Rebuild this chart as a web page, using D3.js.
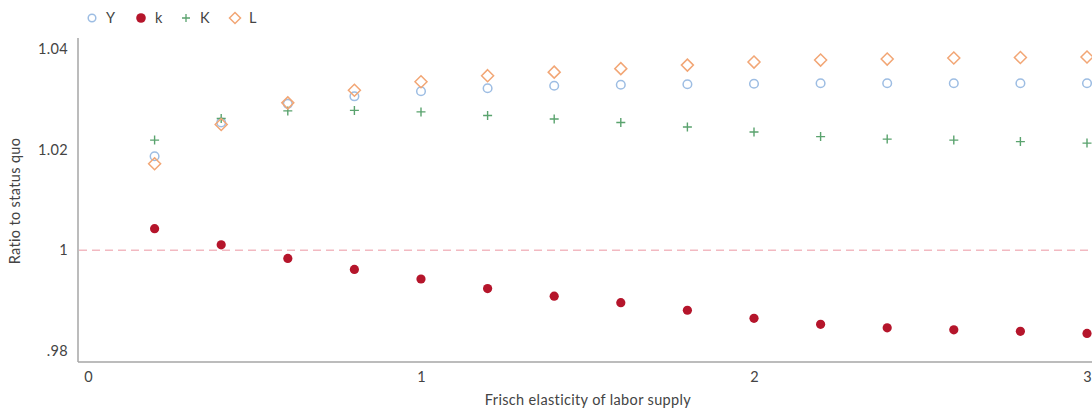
<!DOCTYPE html>
<html>
<head>
<meta charset="utf-8">
<script src="https://cdn.jsdelivr.net/npm/d3@7"></script>
<style>
  html, body { margin: 0; padding: 0; background: #fff; }
  svg { display: block; font-family: Lato, "Open Sans", sans-serif; }
</style>
</head>
<body>
<svg id="chart" width="1092" height="413"></svg>
<script>
const elasticity = [0.2, 0.4, 0.6, 0.8, 1.0, 1.2, 1.4, 1.6, 1.8, 2.0, 2.2, 2.4, 2.6, 2.8, 3.0];
const seriesY = [1.0187, 1.0254, 1.0291, 1.0306, 1.0316, 1.0322, 1.0327, 1.0329, 1.0330, 1.0331, 1.0332, 1.0332, 1.0332, 1.0332, 1.0332];
const seriesk = [1.0043, 1.0011, 0.9984, 0.9962, 0.9943, 0.9924, 0.9909, 0.9896, 0.9881, 0.9865, 0.9853, 0.9846, 0.9842, 0.9839, 0.9835];
const seriesK = [1.0219, 1.0262, 1.0277, 1.0278, 1.0275, 1.0268, 1.0261, 1.0254, 1.0245, 1.0235, 1.0226, 1.0221, 1.0219, 1.0216, 1.0213];
const seriesL = [1.0172, 1.0250, 1.0293, 1.0318, 1.0335, 1.0347, 1.0354, 1.0361, 1.0368, 1.0374, 1.0378, 1.0380, 1.0382, 1.0383, 1.0384];
const xTicks = [0, 1, 2, 3];
const yTicks = [0.98, 1.00, 1.02, 1.04];
const yTickLabels = [".98", "1", "1.02", "1.04"];
const seriesNames = ["Y", "k", "K", "L"];

const svg = d3.select("#chart");
const colors = { Y: "#9dbde3", k: "#b5152b", K: "#5aa36e", L: "#f2a675" };

const x = d3.scaleLinear().domain([0, 3]).range([88, 1087]);
const y = d3.scaleLinear().domain([0.98, 1.04]).range([351, 49]);

const axisColor = "#a6a6a6";
const textColor = "#444";
const fontSize = 14.5;
const letterSp = "0.35px";

// axes lines
svg.append("line").attr("x1", 78).attr("x2", 78).attr("y1", 38).attr("y2", 362)
  .attr("stroke", axisColor).attr("stroke-width", 1.5);
svg.append("line").attr("x1", 78).attr("x2", 1092).attr("y1", 362).attr("y2", 362)
  .attr("stroke", axisColor).attr("stroke-width", 1.5);

// y ticks
const yAxis = d3.axisLeft(y).tickValues(yTicks).tickSize(0).tickPadding(0)
  .tickFormat((d, i) => yTickLabels[i]);
const gy = svg.append("g").attr("transform", "translate(68,0)").call(yAxis);
gy.select(".domain").remove();
gy.selectAll("text").attr("font-size", fontSize).attr("fill", textColor)
  .attr("font-family", "Lato, sans-serif").attr("letter-spacing", letterSp);

// x ticks
const xAxis = d3.axisBottom(x).tickValues(xTicks).tickSize(0).tickPadding(0).tickFormat(d3.format("d"));
const gx = svg.append("g").attr("transform", "translate(0,372)").call(xAxis);
gx.select(".domain").remove();
gx.selectAll("text").attr("font-size", fontSize).attr("fill", textColor)
  .attr("font-family", "Lato, sans-serif").attr("letter-spacing", letterSp);

// axis titles
svg.append("text").attr("x", 588).attr("y", 405).attr("text-anchor", "middle")
  .attr("font-size", fontSize).attr("letter-spacing", letterSp).attr("fill", textColor)
  .text("Frisch elasticity of labor supply");
svg.append("text").attr("transform", "translate(20,201) rotate(-90)").attr("text-anchor", "middle")
  .attr("font-size", fontSize).attr("letter-spacing", letterSp).attr("fill", textColor)
  .text("Ratio to status quo");

// reference line at 1
svg.append("line").attr("x1", 79).attr("x2", 1092).attr("y1", y(1)).attr("y2", y(1))
  .attr("stroke", "#f2b9c1").attr("stroke-width", 1.5).attr("stroke-dasharray", "8,5");

function toPts(vals) { return elasticity.map((e, i) => ({ x: e, v: vals[i] })); }

// Y circles
svg.append("g").selectAll("circle").data(toPts(seriesY)).join("circle")
  .attr("cx", d => x(d.x)).attr("cy", d => y(d.v)).attr("r", 4.3)
  .attr("fill", "none").attr("stroke", colors.Y).attr("stroke-width", 1.5);

// k filled
svg.append("g").selectAll("circle").data(toPts(seriesk)).join("circle")
  .attr("cx", d => x(d.x)).attr("cy", d => y(d.v)).attr("r", 4.6)
  .attr("fill", colors.k);

// K plus
svg.append("g").selectAll("path").data(toPts(seriesK)).join("path")
  .attr("transform", d => `translate(${x(d.x)},${y(d.v)})`)
  .attr("d", "M-4.5,0H4.5M0,-4.5V4.5")
  .attr("stroke", colors.K).attr("stroke-width", 1.4).attr("fill", "none");

// L diamonds
svg.append("g").selectAll("path").data(toPts(seriesL)).join("path")
  .attr("transform", d => `translate(${x(d.x)},${y(d.v)})`)
  .attr("d", "M0,-6L6,0L0,6L-6,0Z")
  .attr("stroke", colors.L).attr("stroke-width", 1.5).attr("fill", "none");

// legend
const legend = svg.append("g").attr("font-size", fontSize).attr("fill", textColor);
const legX = [92, 141, 186, 235];
const legY = 18;
seriesNames.forEach((name, i) => {
  const g = legend.append("g").attr("transform", `translate(${legX[i]},${legY})`);
  if (name === "Y") g.append("circle").attr("r", 3.8).attr("fill", "none").attr("stroke", colors.Y).attr("stroke-width", 1.5);
  if (name === "k") g.append("circle").attr("r", 4.8).attr("fill", colors.k);
  if (name === "K") g.append("path").attr("d", "M-4,0H4M0,-4V4").attr("stroke", colors.K).attr("stroke-width", 1.3);
  if (name === "L") g.append("path").attr("d", "M0,-5.5L5.5,0L0,5.5L-5.5,0Z").attr("fill", "none").attr("stroke", colors.L).attr("stroke-width", 1.5);
  g.append("text").attr("x", 14).attr("y", 5).attr("fill", textColor).text(name);
});
</script>
</body>
</html>
